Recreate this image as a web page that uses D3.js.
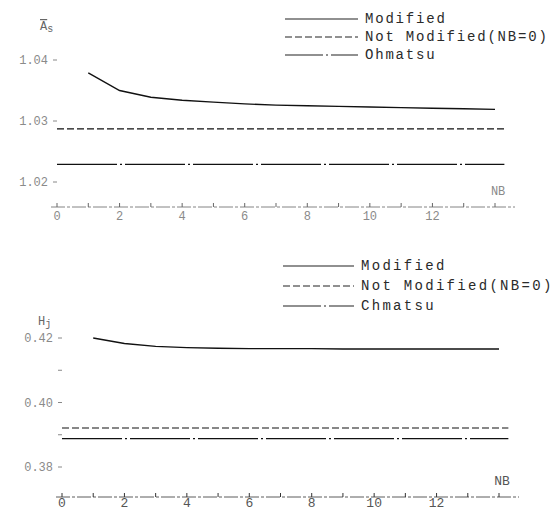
<!DOCTYPE HTML>
<html>
<head>
<meta charset="utf-8">
<title>NB chart</title>
<script src="https://cdn.jsdelivr.net/npm/d3@7/dist/d3.min.js"></script>
<style>
body{ margin:0; background:#fff; }
svg{ display:block; }
.tick-label{ font-family:"Liberation Mono", monospace; font-size:12px; fill:#8a8a8a; }
.legend-text{ font-family:"Liberation Mono", monospace; font-size:14px; fill:#2a2a2a; letter-spacing:2px; }
</style>
</head>
<body>
<svg id="chart" width="558" height="511"></svg>
<script>
// NB values
var nbPoints = [1, 2, 3, 4, 5, 6, 7, 8, 9, 10, 11, 12, 13, 14];
var nbFlat = [0, 14.3];
var xTicks = [0, 1, 2, 3, 4, 5, 6, 7, 8, 9, 10, 11, 12, 13, 14];
var xLabels = [0, 2, 4, 6, 8, 10, 12];

// top panel: As
var asModified = [1.0379, 1.0350, 1.0339, 1.0334, 1.0331, 1.0328, 1.0326, 1.0325, 1.0324, 1.0323, 1.0322, 1.0321, 1.0320, 1.0319];
var asNotModified = [1.0287, 1.0287];
var asOhmatsu = [1.0229, 1.0229];
var asTicks = [1.04, 1.03, 1.02];

// bottom panel: Hj
var hjModified = [0.4200, 0.4183, 0.4174, 0.4170, 0.4168, 0.4167, 0.4167, 0.4167, 0.4166, 0.4166, 0.4166, 0.4166, 0.4166, 0.4166];
var hjNotModified = [0.3921, 0.3921];
var hjOhmatsu = [0.3888, 0.3888];
var hjTicks = [0.42, 0.41, 0.40, 0.39, 0.38];
var hjLabels = [0.42, 0.40, 0.38];

var svg = d3.select("#chart");

function drawPanel(p){
    var g = svg.append("g");
    var x = d3.scaleLinear().domain([0, 14]).range([p.x0, p.x14]);
    var y = d3.scaleLinear().domain([p.yTop, p.yBot]).range([p.pxTop, p.pxBot]);

    // x axis
    g.append("line")
        .attr("x1", p.x0 - 6).attr("x2", p.x14 + 20)
        .attr("y1", p.axisY).attr("y2", p.axisY)
        .style("stroke", p.axisColor).style("stroke-width", 0.8)
        .style("stroke-dasharray", "14,2,3,2");
    g.selectAll(".xt").data(xTicks).enter().append("line")
        .attr("x1", function(d){ return x(d); }).attr("x2", function(d){ return x(d); })
        .attr("y1", p.axisY).attr("y2", p.axisY - 4)
        .style("stroke", p.axisColor).style("stroke-width", 1);
    g.selectAll(".xl").data(xLabels).enter().append("text")
        .attr("class", "tick-label")
        .attr("x", function(d){ return x(d); })
        .attr("y", p.axisY + p.labelDy)
        .attr("text-anchor", "middle")
        .style("font-size", p.xFont)
        .style("fill", p.xColor)
        .text(function(d){ return d; });
    g.append("text").attr("class", "tick-label")
        .attr("x", x(14.1)).attr("y", p.axisY - 12)
        .attr("text-anchor", "middle")
        .style("fill", p.xColor)
        .style("font-size", p.xFont)
        .text("NB");

    // y ticks
    g.selectAll(".yt").data(p.yTicks).enter().append("line")
        .attr("x1", p.x0 - 4).attr("x2", p.x0)
        .attr("y1", function(d){ return y(d); }).attr("y2", function(d){ return y(d); })
        .style("stroke", "#888").style("stroke-width", 1);
    g.selectAll(".yl").data(p.yLabels).enter().append("text")
        .attr("class", "tick-label")
        .attr("x", p.x0 - 9)
        .attr("y", function(d){ return y(d) + 4; })
        .attr("text-anchor", "end")
        .text(function(d){ return d.toFixed(2); });

    // axis name
    var nm = g.append("text").attr("class", "tick-label")
        .attr("x", p.nameX).attr("y", p.nameY).style("fill", "#666");
    nm.append("tspan").text(p.name[0]).style("text-decoration", p.overline ? "overline" : "none");
    nm.append("tspan").attr("dy", 2).style("font-size", "10px").text(p.name[1]);

    var line = d3.line()
        .x(function(d){ return x(d[0]); })
        .y(function(d){ return y(d[1]); });

    var series = [
        { nb: nbPoints, v: p.modified, dash: null, w: 1.4 },
        { nb: nbFlat, v: p.notModified, dash: "7,3", w: 1.2 },
        { nb: nbFlat, v: p.ohmatsu, dash: "60,3,2,3", w: 1.2 }
    ];
    series.forEach(function(s){
        g.append("path")
            .datum(d3.zip(s.nb, s.v))
            .attr("d", line)
            .style("fill", "none")
            .style("stroke", "#111")
            .style("stroke-width", s.w)
            .style("stroke-dasharray", s.dash);
    });

    // legend
    p.legend.forEach(function(txt, i){
        var ly = p.legY + i * p.legStep;
        g.append("line")
            .attr("x1", p.legX1).attr("x2", p.legX2)
            .attr("y1", ly).attr("y2", ly)
            .style("stroke", "#222").style("stroke-width", 1.2)
            .style("stroke-dasharray", series[i].dash === "60,3,2,3" ? "38,3,2,3" : series[i].dash);
        g.append("text").attr("class", "legend-text")
            .attr("x", p.legX2 + 7).attr("y", ly + 4)
            .style("letter-spacing", p.legSpacing)
            .text(txt);
    });
}

drawPanel({
    x0: 57, x14: 495, yTop: 1.04, yBot: 1.02, pxTop: 60, pxBot: 182, axisY: 207,
    yTicks: asTicks, yLabels: asTicks, labelDy: 13, xFont: "12px", xColor: "#8a8a8a", axisColor: "#666",
    modified: asModified, notModified: asNotModified, ohmatsu: asOhmatsu,
    name: ["A", "s"], overline: true, nameX: 40, nameY: 30,
    legend: ["Modified", "Not Modified(NB=0)", "Ohmatsu"],
    legX1: 285, legX2: 358, legY: 19, legStep: 18, legSpacing: "1.8px"
});

drawPanel({
    x0: 62, x14: 499, yTop: 0.42, yBot: 0.38, pxTop: 338, pxBot: 467, axisY: 497,
    yTicks: hjTicks, yLabels: hjLabels, labelDy: 10, xFont: "13px", xColor: "#555", axisColor: "#333",
    modified: hjModified, notModified: hjNotModified, ohmatsu: hjOhmatsu,
    name: ["H", "j"], overline: false, nameX: 38, nameY: 325,
    legend: ["Modified", "Not Modified(NB=0)", "Chmatsu"],
    legX1: 283, legX2: 354, legY: 266, legStep: 20, legSpacing: "2.3px"
});
</script>
</body>
</html>
